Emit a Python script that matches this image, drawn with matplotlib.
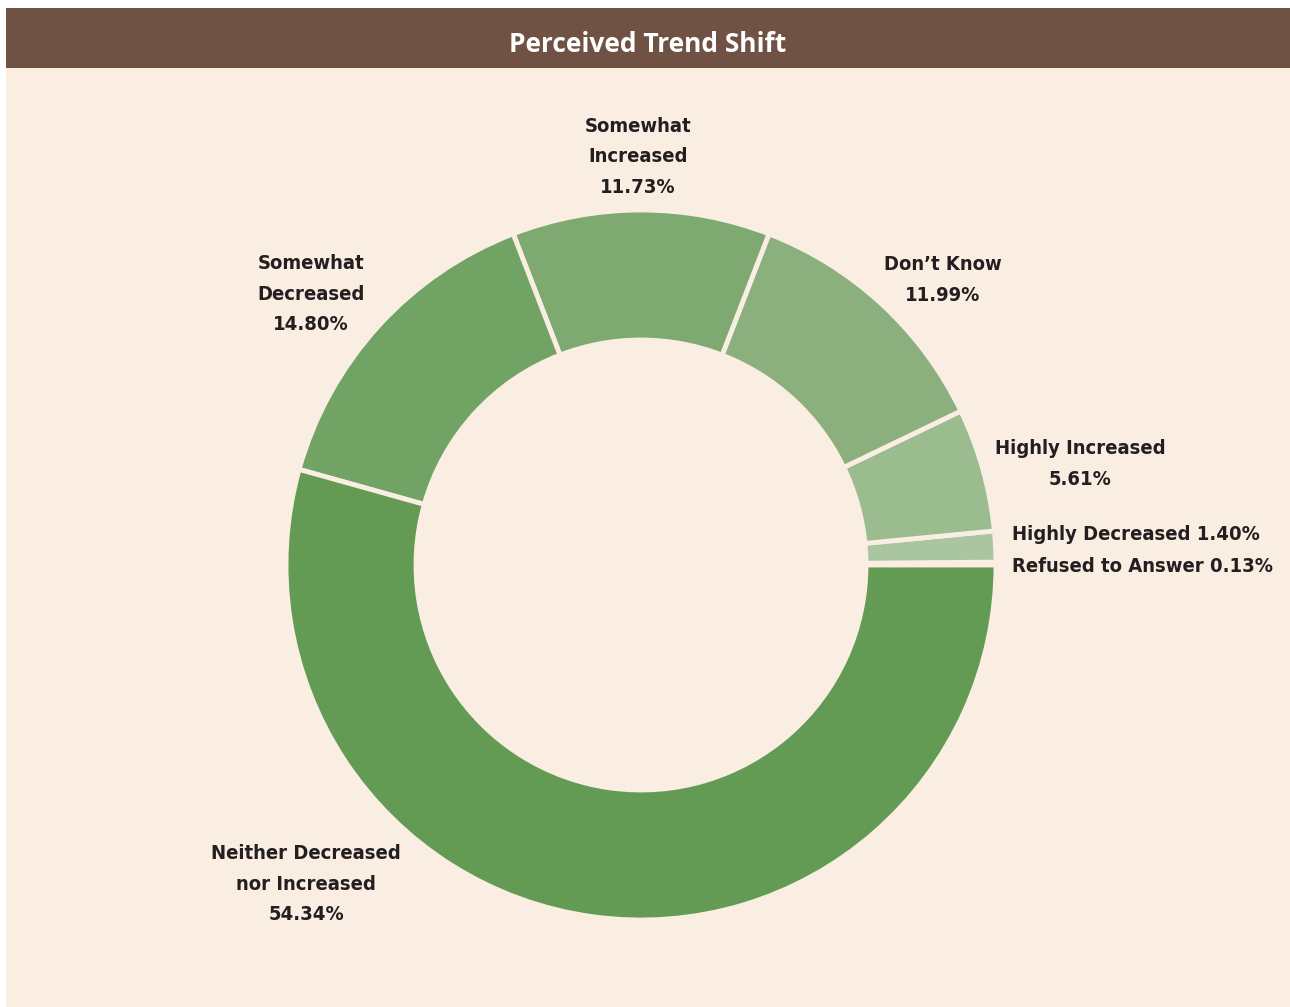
import matplotlib.pyplot as plt
from matplotlib.patches import Rectangle

# data, counter-clockwise from 3 o'clock
categories = ['Refused to Answer', 'Highly Decreased', 'Highly Increased', "Don\u2019t Know",
              'Somewhat Increased', 'Somewhat Decreased', 'Neither Decreased nor Increased']
values = [0.13, 1.40, 5.61, 11.99, 11.73, 14.80, 54.34]
colors = ['#B9CFAF', '#AAC6A1', '#9BBC8F', '#8BB07E', '#7EAA72', '#70A364', '#639B54']

label_text = ['Refused to Answer 0.13%', 'Highly Decreased 1.40%', 'Highly Increased\n5.61%',
              "Don\u2019t Know\n11.99%", 'Somewhat\nIncreased\n11.73%', 'Somewhat\nDecreased\n14.80%',
              'Neither Decreased\nnor Increased\n54.34%']
# label centres in pixel coords (x, y from top)
label_pos = [(1143, 566), (1136, 535), (1080, 464), (943, 280), (638, 157), (311, 294), (306, 884)]

W, H = 1290, 1007
bg = '#FAEDE2'
fig = plt.figure(figsize=(W / 100, H / 100), dpi=100)
fig.patch.set_facecolor('white')
ax = fig.add_axes([0, 0, 1, 1])

# panel background and header bar
ax.add_patch(Rectangle((6, 0), W - 6, H - 8, facecolor=bg, edgecolor='none', zorder=0))
ax.add_patch(Rectangle((6, H - 68), W - 6, 60, facecolor='#705245', edgecolor='none', zorder=1))
ax.text(648, H - 44, 'Perceived Trend Shift', color='white', fontsize=19, fontweight='bold',
        family=['Open Sans', 'DejaVu Sans'], ha='center', va='center', zorder=2)

cx, cy, r = 641, H - 565, 355
ax.pie(values, colors=colors, startangle=0, counterclock=True, center=(cx, cy), radius=r,
       wedgeprops=dict(width=130, edgecolor=bg, linewidth=3.5), frame=True)
ax.set_xlim(0, W)
ax.set_ylim(0, H)
ax.set_aspect('equal')
ax.axis('off')

for txt, (x, y) in zip(label_text, label_pos):
    ax.text(x, H - y, txt, ha='center', va='center', fontsize=14.5, fontweight='bold',
            fontstretch='condensed', color='#231F20', linespacing=1.75,
            family=['DejaVu Sans Condensed', 'DejaVu Sans'], zorder=3)

fig.savefig('out.png', dpi=100, facecolor='white')
